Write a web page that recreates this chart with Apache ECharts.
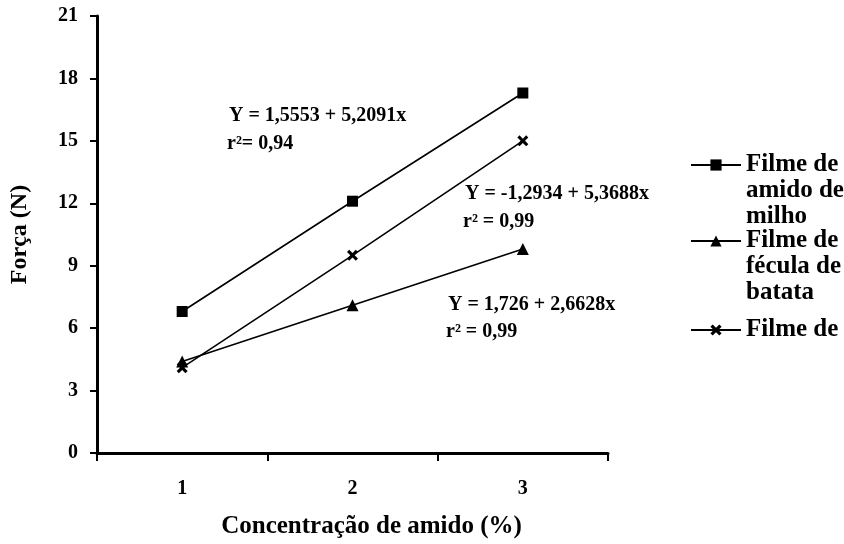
<!DOCTYPE html>
<html>
<head>
<meta charset="utf-8">
<script src="https://cdn.jsdelivr.net/npm/echarts@6/dist/echarts.min.js"></script>
<style>
  html, body { margin: 0; padding: 0; background: #fff; }
  #chart { width: 844px; height: 544px; }
</style>
</head>
<body>
<div id="chart"></div>
<script>
// Concentração de amido (%) on the x axis
const concentracoes = ['1', '2', '3'];

// Força (N) measured for each film
const amidoMilho = [6.8, 12.1, 17.3];
const feculaBatata = [4.4, 7.1, 9.8];
const terceiroFilme = [4.1, 9.5, 15.0];

const nomesSeries = ['Filme de amido de milho', 'Filme de fécula de batata', 'Filme de'];
// Leading blank lines keep the legend marker level with the first text line
const rotulosLegenda = ['\n\nFilme de\namido de\nmilho', '\n\nFilme de\nfécula de\nbatata', 'Filme de'];

// Fitted equations written next to each line
const equacoes = [
  ['Y = 1,5553 + 5,2091x', 'r²= 0,94'],
  ['Y = -1,2934 + 5,3688x', 'r² = 0,99'],
  ['Y = 1,726 + 2,6628x', 'r² = 0,99']
];

const FONT = '"Liberation Serif", "Times New Roman", serif';
const crossPath = 'path://M0,2 L2,0 L5,3 L8,0 L10,2 L7,5 L10,8 L8,10 L5,7 L2,10 L0,8 L3,5 Z';

const chart = echarts.init(document.getElementById('chart'), null, { renderer: 'canvas' });

function serie(name, data, symbol, size) {
  return {
    name: name,
    type: 'line',
    data: data,
    symbol: symbol,
    symbolSize: size,
    showAllSymbol: true,
    lineStyle: { color: '#000', width: 1.6 },
    itemStyle: { color: '#000', borderWidth: 0 },
    emphasis: { disabled: true },
    animation: false
  };
}

const LH = 26;
const legendText = {
  fontFamily: FONT, fontWeight: 'bold', fontSize: 25, color: '#000', lineHeight: LH
};

// cy: vertical centre of the legend marker
function legenda(idx, cy, linhas) {
  return {
    orient: 'vertical',
    left: 690,
    top: cy - (linhas * LH) / 2,
    padding: 0,
    itemWidth: 50,
    itemHeight: 14,
    itemGap: 0,
    data: [nomesSeries[idx]],
    formatter: function () { return rotulosLegenda[idx]; },
    textStyle: legendText,
    selectedMode: false
  };
}

const eqStyle = { fontFamily: FONT, fontWeight: 'bold', fontSize: 20, fill: '#000', verticalAlign: 'middle' };
const eqPos = [[229, 116, 144], [465, 194, 222], [448, 305, 332]];
const graficos = [];
equacoes.forEach(function (eq, i) {
  graficos.push({ type: 'text', x: eqPos[i][0], y: eqPos[i][1], style: Object.assign({ text: eq[0] }, eqStyle) });
  graficos.push({ type: 'text', x: eqPos[i][0] - 2, y: eqPos[i][2], style: Object.assign({ text: eq[1] }, eqStyle) });
});

chart.setOption({
  backgroundColor: '#fff',
  animation: false,
  grid: { left: 93, right: 236, top: 16, bottom: 89, containLabel: false },
  legend: [
    legenda(0, 165, 5),
    legenda(1, 241, 5),
    legenda(2, 330, 1)
  ],
  xAxis: {
    type: 'category',
    data: concentracoes,
    boundaryGap: true,
    name: 'Concentração de amido (%)',
    nameLocation: 'middle',
    nameGap: 61,
    nameTextStyle: { fontFamily: FONT, fontWeight: 'bold', fontSize: 25, color: '#000', padding: [0, 0, 0, 38] },
    axisLine: { lineStyle: { color: '#000', width: 3 } },
    axisTick: { show: true, length: 8, lineStyle: { color: '#000', width: 2 } },
    axisLabel: { fontFamily: FONT, fontWeight: 'bold', fontSize: 20, color: '#000', margin: 26 },
    splitLine: { show: false }
  },
  yAxis: {
    type: 'value',
    min: 0,
    max: 21,
    interval: 3,
    name: 'Força (N)',
    nameLocation: 'middle',
    nameGap: 65,
    nameRotate: 90,
    nameTextStyle: { fontFamily: FONT, fontWeight: 'bold', fontSize: 24, color: '#000' },
    axisLine: { show: true, lineStyle: { color: '#000', width: 3 } },
    axisTick: { show: true, length: 7, lineStyle: { color: '#000', width: 2 } },
    axisLabel: { fontFamily: FONT, fontWeight: 'bold', fontSize: 20, color: '#000', margin: 19 },
    splitLine: { show: false }
  },
  series: [
    serie(nomesSeries[0], amidoMilho, 'rect', 11),
    serie(nomesSeries[1], feculaBatata, 'triangle', 12),
    serie(nomesSeries[2], terceiroFilme, crossPath, 11)
  ],
  graphic: graficos
});
</script>
</body>
</html>
